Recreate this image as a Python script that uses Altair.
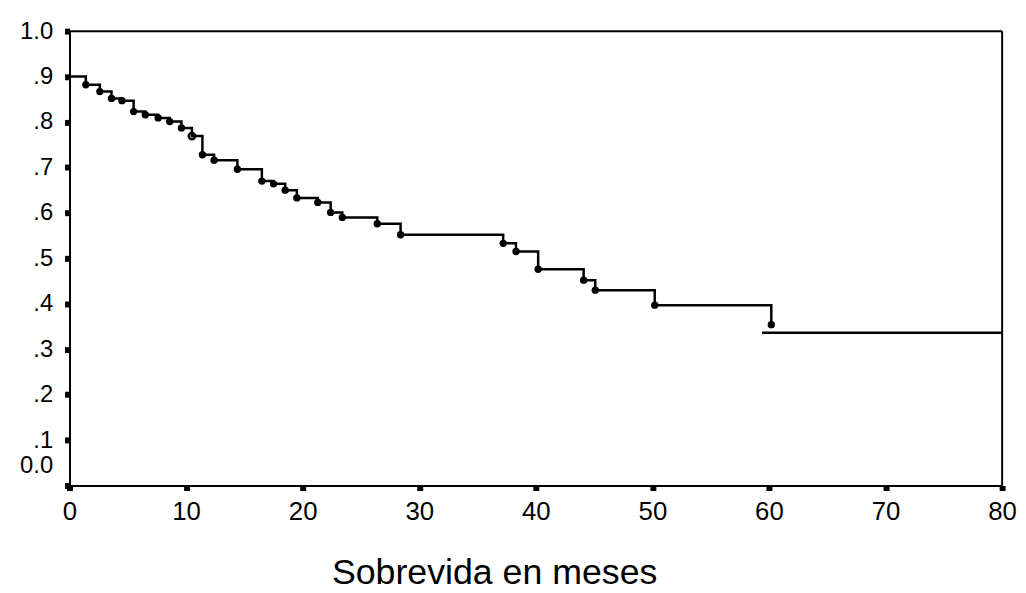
import altair as alt
import pandas as pd

# Kaplan-Meier step points (months, survival proportion)
times = [0, 1.4, 2.6, 3.6, 4.5, 5.5, 6.5, 7.6, 8.6, 9.6, 10.5, 11.4, 12.4, 14.4,
         16.5, 17.5, 18.5, 19.5, 21.3, 22.4, 23.4, 26.4, 28.4, 37.2, 38.3, 40.2,
         44.1, 45.1, 50.2, 60.2]
surv = [0.900, 0.882, 0.867, 0.852, 0.847, 0.823, 0.816, 0.809, 0.801, 0.787,
        0.769, 0.728, 0.716, 0.696, 0.670, 0.664, 0.650, 0.633, 0.623, 0.601,
        0.590, 0.576, 0.552, 0.533, 0.515, 0.476, 0.452, 0.430, 0.397, 0.354]
open_marks = [10.5]

tail_times = [59.4, 80]
tail_surv = [0.336, 0.336]

x_ticks = [0, 10, 20, 30, 40, 50, 60, 70, 80]
y_ticks = [0, 0.1, 0.2, 0.3, 0.4, 0.5, 0.6, 0.7, 0.8, 0.9, 1.0]

FONT = "Liberation Sans"

curve = pd.DataFrame({"t": times, "s": surv})
curve["open"] = curve["t"].isin(open_marks)
marks_df = curve[curve["t"] > 0]
tail = pd.DataFrame({"t": tail_times, "s": tail_surv})
frame_top = pd.DataFrame({"t": [0], "t2": [80], "s": [1.0]})
frame_right = pd.DataFrame({"t": [80], "s": [0.0], "s2": [1.0]})

xs = alt.Scale(domain=[0, 80], nice=False, zero=False)
ys = alt.Scale(domain=[0, 1], nice=False)

x_axis = alt.Axis(values=x_ticks, title="Sobrevida en meses", grid=False,
                  labelFont=FONT, labelFontSize=26, labelColor="black",
                  labelFlush=False, labelOverlap=False,
                  labelPadding=8, tickSize=5, tickWidth=6, tickColor="black",
                  domainColor="black", domainWidth=2,
                  titleFont=FONT, titleFontSize=36, titleFontWeight="normal",
                  titleColor="black", titleX=428, titleY=99,
                  titleAlign="center", titleBaseline="alphabetic")
y_axis = alt.Axis(values=y_ticks, title=None, grid=False,
                  labelExpr="datum.value == 0 ? '0.0' : datum.value == 1 ? '1.0' : substring(format(datum.value, '.1f'), 1)",
                  labelFont=FONT, labelFontSize=24, labelColor="black",
                  labelFlush=False, labelOverlap=False,
                  labelPadding=12,
                  labelOffset={"condition": {"test": "datum.value == 0", "value": -20}, "value": 0},
                  tickSize=5, tickWidth=6, tickColor="black",
                  domainColor="black", domainWidth=2)

line = alt.Chart(curve).mark_line(interpolate="step-after", color="black", strokeWidth=2.5).encode(
    x=alt.X("t:Q", scale=xs, axis=x_axis),
    y=alt.Y("s:Q", scale=ys, axis=y_axis),
)

pts_filled = alt.Chart(marks_df[~marks_df["open"]]).mark_point(
    filled=True, color="black", size=55, opacity=1
).encode(x=alt.X("t:Q", scale=xs), y=alt.Y("s:Q", scale=ys))

pts_open = alt.Chart(marks_df[marks_df["open"]]).mark_point(
    filled=False, color="black", size=40, strokeWidth=2.5, opacity=1
).encode(x=alt.X("t:Q", scale=xs), y=alt.Y("s:Q", scale=ys))

tail_line = alt.Chart(tail).mark_line(color="black", strokeWidth=2.5).encode(
    x=alt.X("t:Q", scale=xs), y=alt.Y("s:Q", scale=ys)
)

top_rule = alt.Chart(frame_top).mark_rule(color="black", strokeWidth=2).encode(
    x=alt.X("t:Q", scale=xs), x2="t2:Q", y=alt.Y("s:Q", scale=ys)
)
right_rule = alt.Chart(frame_right).mark_rule(color="black", strokeWidth=2).encode(
    x=alt.X("t:Q", scale=xs), y=alt.Y("s:Q", scale=ys), y2="s2:Q"
)

chart = alt.layer(line, tail_line, top_rule, right_rule, pts_filled, pts_open).properties(
    width=940, height=458,
    autosize=alt.AutoSizeParams(type="none"),
    padding={"left": 62, "top": 21, "right": 16, "bottom": 106},
).configure_view(stroke=None).configure(background="white")

chart.save("out.html", embed_options={"renderer": "svg", "actions": False})
